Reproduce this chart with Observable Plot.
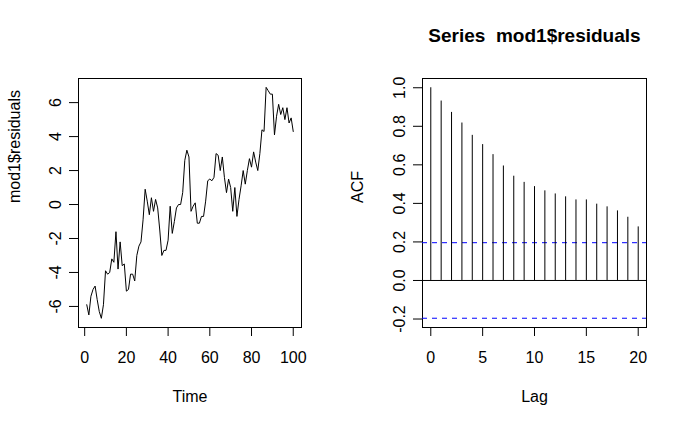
<!DOCTYPE html>
<html>
<head>
<meta charset="utf-8">
<script src="https://cdn.jsdelivr.net/npm/d3@7"></script>
<script src="https://cdn.jsdelivr.net/npm/@observablehq/plot@0.6"></script>
<style>
  html, body { margin: 0; padding: 0; background: #ffffff; }
  #wrap { display: flex; width: 686px; height: 426px; background: #ffffff; }
  svg text { white-space: pre; }
</style>
</head>
<body>
<div id="wrap"></div>
<script>
// ---- Data ----
const residuals = [
  -5.9, -6.5, -5.4, -5.0, -4.8, -5.6, -6.3, -6.7, -5.9, -3.9,
  -4.1, -4.0, -3.2, -3.4, -1.6, -3.8, -2.2, -3.6, -3.5, -5.1,
  -5.0, -4.1, -4.1, -4.5, -3.0, -2.45, -2.2, -0.9, 0.9, 0.2,
  -0.6, 0.4, -0.4, 0.3, -0.2, -1.5, -3.0, -2.7, -2.7, -2.1,
  -0.1, -1.7, -1.0, -0.2, 0.0, 0.0, 0.7, 2.6, 3.2, 2.8,
  -0.4, -0.1, 0.1, -1.1, -1.1, -0.7, -0.7, 0.2, 1.4, 1.5,
  1.4, 1.6, 3.0, 2.9, 2.0, 2.8, 1.6, 0.7, 1.5, 1.0,
  -0.4, 1.0, -0.7, 0.3, 1.1, 2.0, 1.2, 2.0, 2.7, 2.2,
  3.1, 2.5, 2.0, 3.0, 4.4, 4.3, 6.9, 6.7, 6.5, 6.5,
  4.1, 5.2, 5.9, 5.3, 5.7, 5.0, 5.7, 4.8, 5.1, 4.3
];
const acfValues = [
  1.000, 0.931, 0.872, 0.817, 0.753, 0.705, 0.653, 0.594, 0.541, 0.509,
  0.487, 0.465, 0.449, 0.434, 0.418, 0.418, 0.396, 0.382, 0.361, 0.328, 0.278
];
const confLimit = 0.196;

const timeTicks = [0, 20, 40, 60, 80, 100];
const timeTickLabels = ["0", "20", "40", "60", "80", "100"];
const residTicks = [-6, -4, -2, 0, 2, 4, 6];
const residTickLabels = ["-6", "-4", "-2", "0", "2", "4", "6"];
const lagTicks = [0, 5, 10, 15, 20];
const lagTickLabels = ["0", "5", "10", "15", "20"];
const acfTicks = [-0.2, 0.0, 0.2, 0.4, 0.6, 0.8, 1.0];
const acfTickLabels = ["-0.2", "0.0", "0.2", "0.4", "0.6", "0.8", "1.0"];

const leftTitleX = "Time";
const leftTitleY = "mod1$residuals";
const rightTitleX = "Lag";
const rightTitleY = "ACF";
const rightMain = "Series  mod1$residuals";

// tables built from the arrays
const series = residuals.map((v, i) => ({t: i + 1, v}));
const acf = acfValues.map((v, i) => ({lag: i, v}));

const font = "Liberation Sans, Arial, Helvetica, sans-serif";
const baseStyle = {fontFamily: font, fontSize: "16px", color: "black", background: "white", overflow: "visible"};

const left = Plot.plot({
  width: 343, height: 426,
  marginLeft: 78, marginRight: 42, marginTop: 78, marginBottom: 99,
  style: baseStyle,
  x: {domain: [-2.96, 103.96]},
  y: {domain: [-7.24, 7.42]},
  marks: [
    Plot.frame({stroke: "black"}),
    Plot.axisX({ticks: timeTicks, tickFormat: (d) => timeTickLabels[timeTicks.indexOf(d)], tickSize: 9, tickPadding: 15, label: null, fontSize: 16}),
    Plot.axisY({ticks: residTicks, tickFormat: (d) => residTickLabels[residTicks.indexOf(d)], tickSize: 9, tickRotate: -90, tickPadding: 9, label: null, fontSize: 16}),
    Plot.line(series, {x: "t", y: "v", stroke: "black", strokeWidth: 1}),
    Plot.text([leftTitleX], {frameAnchor: "bottom", lineAnchor: "middle", dy: 69, fontSize: 16}),
    Plot.text([leftTitleY], {frameAnchor: "left", lineAnchor: "middle", dx: -64, rotate: -90, fontSize: 16})
  ]
});

const right = Plot.plot({
  width: 343, height: 426,
  marginLeft: 79, marginRight: 40, marginTop: 78, marginBottom: 99,
  style: baseStyle,
  x: {domain: [-0.8, 20.8]},
  y: {domain: [-0.244, 1.048]},
  marks: [
    Plot.frame({stroke: "black"}),
    Plot.axisX({ticks: lagTicks, tickFormat: (d) => lagTickLabels[lagTicks.indexOf(d)], tickSize: 9, tickPadding: 15, label: null, fontSize: 16}),
    Plot.axisY({ticks: acfTicks, tickFormat: (d) => acfTickLabels[acfTicks.findIndex(t => Math.abs(t - d) < 1e-9)], tickSize: 9, tickRotate: -90, tickPadding: 9, label: null, fontSize: 16}),
    Plot.ruleY([0], {stroke: "black", strokeWidth: 1}),
    Plot.ruleY([confLimit, -confLimit], {stroke: "#0000ff", strokeWidth: 1, strokeDasharray: "5,5"}),
    Plot.ruleX(acf, {x: "lag", y1: 0, y2: "v", stroke: "black", strokeWidth: 1}),
    Plot.text([rightTitleX], {frameAnchor: "bottom", lineAnchor: "middle", dy: 69, fontSize: 16}),
    Plot.text([rightTitleY], {frameAnchor: "left", lineAnchor: "middle", dx: -65, rotate: -90, fontSize: 16}),
    Plot.text([rightMain], {frameAnchor: "top", lineAnchor: "middle", dy: -43, fontSize: 19, fontWeight: "bold"})
  ]
});

document.getElementById("wrap").append(left, right);
</script>
</body>
</html>
